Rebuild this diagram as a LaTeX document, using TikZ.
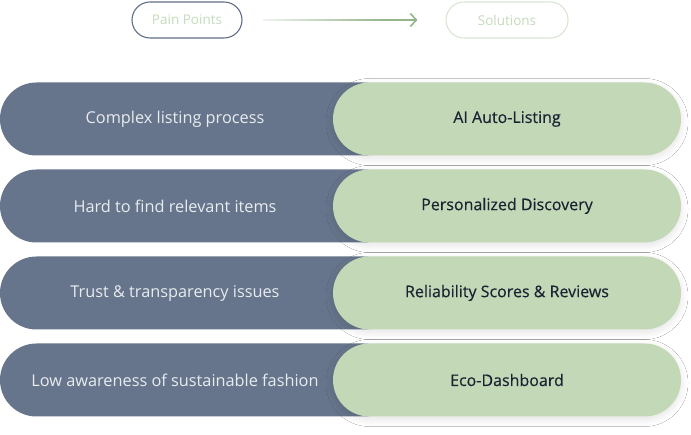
\documentclass[tikz,border=0pt]{standalone}
\usepackage{fontspec}
\setmainfont{Open Sans}
\newfontfamily\solfont{Open Sans}[FakeBold=0.35]
\usetikzlibrary{arrows.meta,shadows.blur,fadings,calc}
\definecolor{painbg}{HTML}{66758B}
\definecolor{solbg}{HTML}{C2D8B6}
\definecolor{paintxt}{HTML}{E8ECF0}
\definecolor{soltxt}{HTML}{1B2232}
\definecolor{hdrborder}{HTML}{5F6E8A}
\definecolor{hdrtxt}{HTML}{C5DBBC}
\definecolor{solborder}{HTML}{D9E7D1}
\definecolor{arrowgreen}{HTML}{94B48A}
\tikzset{
  painpill/.style={fill=painbg, rounded corners=36.5pt, minimum width=400pt, minimum height=73pt, inner sep=0pt},
  paintext/.style={text=paintxt, font=\fontsize{16.3}{19}\selectfont},
  solpill/.style={fill=solbg, rounded corners=36.5pt, minimum width=348pt, minimum height=73pt, inner sep=0pt, text=soltxt, font=\solfont\fontsize{16}{19}\selectfont,
    blur shadow={shadow xshift=0pt, shadow yshift=-3pt, shadow blur radius=7pt, shadow blur steps=12, shadow opacity=11}},
  hdrpill/.style={rounded corners=18pt, minimum height=36pt, inner sep=0pt, text=hdrtxt, font=\fontsize{13.5}{16}\selectfont, line width=1.1pt},
}
\begin{document}
\begin{tikzpicture}[x=1pt,y=-1pt]
\useasboundingbox[fill=white] (0,0) rectangle (691,435);
\node[hdrpill, draw=hdrborder, minimum width=110pt] (pp) at (187,20) {Pain Points};
\node[hdrpill, draw=solborder, minimum width=122pt] (sol) at (507,20) {Solutions};
\coordinate (mid) at ($(sol.west)+(-60pt,0)$);
\draw[arrowgreen, line width=1.3pt, shorten <=20pt, path fading=west] (pp.east) -- (mid);
\draw[arrowgreen, line width=1.6pt, -{Straight Barb[length=6pt,width=13pt,line width=1.6pt]}, shorten >=28pt] (mid) -- (sol.west);

\foreach \i/\p/\s in {1/Complex listing process/AI Auto-Listing,
  2/Hard to find relevant items/Personalized Discovery,
  3/Trust \& transparency issues/Reliability Scores \& Reviews,
  4/Low awareness of sustainable fashion/Eco-Dashboard}{
  \node[painpill] (p\i) at (200,{119+87*(\i-1)}) {};
  \node[paintext] (pt\i) at (175,{119+87*(\i-1)}) {\p};
  \node[solpill] (s\i) at (507,{119+87*(\i-1)}) {\s};
}
\end{tikzpicture}
\end{document}
